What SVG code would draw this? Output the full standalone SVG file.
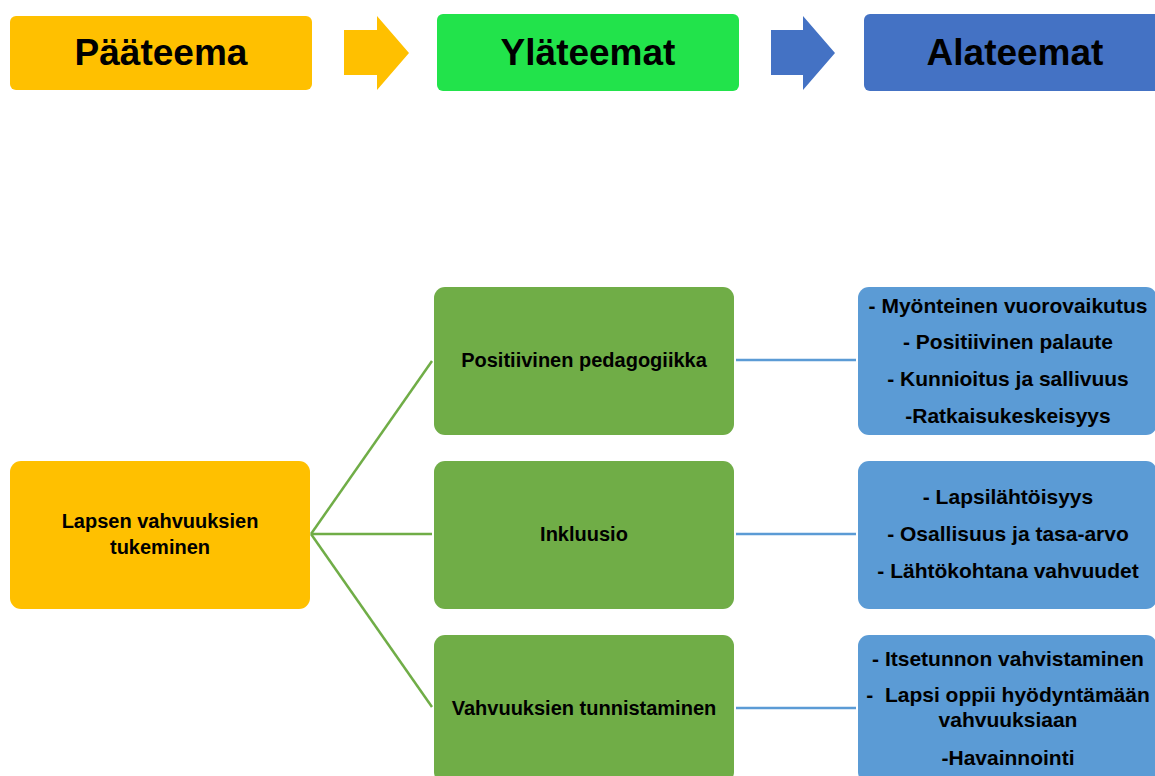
<svg xmlns="http://www.w3.org/2000/svg" width="1155" height="776" viewBox="0 0 1155 776">
<style>
  .t { font-family: "Liberation Sans", Arial, sans-serif; font-weight: bold; fill: #000; text-anchor: middle; }
  .h { font-size: 37px; }
  .n { font-size: 20px; }
  .b { font-size: 21px; }
  .yel { fill: #FFC000; }
  .grn { fill: #70AD47; }
  .blu { fill: #5B9BD5; }
  .gline { stroke: #70AD47; stroke-width: 2.5; fill: none; }
  .bline { stroke: #5B9BD5; stroke-width: 2.5; fill: none; }
</style>
<rect width="1155" height="776" fill="#ffffff"/>

<g id="header-paateema">
  <rect x="10" y="16" width="302" height="74" rx="6" class="yel"/>
  <text x="161" y="65" class="t h">Pääteema</text>
</g>
<g id="header-arrow1">
  <polygon points="344,30 377,30 377,16 409,53 377,90 377,75 344,75" fill="#FFC000"/>
</g>
<g id="header-ylateemat">
  <rect x="437" y="14" width="302" height="77" rx="6" fill="#22E34B"/>
  <text x="588" y="65" class="t h">Yläteemat</text>
</g>
<g id="header-arrow2">
  <polygon points="771,30 803,30 803,16 835,53 803,90 803,75 771,75" fill="#4472C4"/>
</g>
<g id="header-alateemat">
  <rect x="864" y="14" width="302" height="77" rx="6" fill="#4472C4"/>
  <text x="1015" y="65" class="t h">Alateemat</text>
</g>

<g id="connectors">
  <line x1="311" y1="534" x2="432" y2="361" class="gline"/>
  <line x1="311" y1="534" x2="432" y2="534" class="gline"/>
  <line x1="311" y1="534" x2="432" y2="707" class="gline"/>
  <line x1="736" y1="360" x2="856" y2="360" class="bline"/>
  <line x1="736" y1="534" x2="856" y2="534" class="bline"/>
  <line x1="736" y1="708" x2="856" y2="708" class="bline"/>
</g>

<g id="node-lapsen">
  <rect x="10" y="461" width="300" height="148" rx="11" class="yel"/>
  <text x="160" y="528" class="t n">Lapsen vahvuuksien</text>
  <text x="160" y="554" class="t n">tukeminen</text>
</g>

<g id="node-positiivinen">
  <rect x="434" y="287" width="300" height="148" rx="11" class="grn"/>
  <text x="584" y="367" class="t n">Positiivinen pedagogiikka</text>
</g>
<g id="node-inkluusio">
  <rect x="434" y="461" width="300" height="148" rx="11" class="grn"/>
  <text x="584" y="541" class="t n">Inkluusio</text>
</g>
<g id="node-vahvuuksien">
  <rect x="434" y="635" width="300" height="148" rx="11" class="grn"/>
  <text x="584" y="715" class="t n">Vahvuuksien tunnistaminen</text>
</g>

<g id="node-ala1">
  <rect x="858" y="287" width="299" height="148" rx="11" class="blu"/>
  <text x="1008" y="313" class="t b">- Myönteinen vuorovaikutus</text>
  <text x="1008" y="349" class="t b">- Positiivinen palaute</text>
  <text x="1008" y="386" class="t b">- Kunnioitus ja sallivuus</text>
  <text x="1008" y="423" class="t b">-Ratkaisukeskeisyys</text>
</g>
<g id="node-ala2">
  <rect x="858" y="461" width="299" height="148" rx="11" class="blu"/>
  <text x="1008" y="504" class="t b">- Lapsilähtöisyys</text>
  <text x="1008" y="541" class="t b">- Osallisuus ja tasa-arvo</text>
  <text x="1008" y="578" class="t b">- Lähtökohtana vahvuudet</text>
</g>
<g id="node-ala3">
  <rect x="858" y="635" width="299" height="148" rx="11" class="blu"/>
  <text x="1008" y="666" class="t b">- Itsetunnon vahvistaminen</text>
  <text x="1008" y="702" class="t b" xml:space="preserve">-  Lapsi oppii hyödyntämään</text>
  <text x="1008" y="727" class="t b">vahvuuksiaan</text>
  <text x="1008" y="765" class="t b">-Havainnointi</text>
</g>
</svg>
